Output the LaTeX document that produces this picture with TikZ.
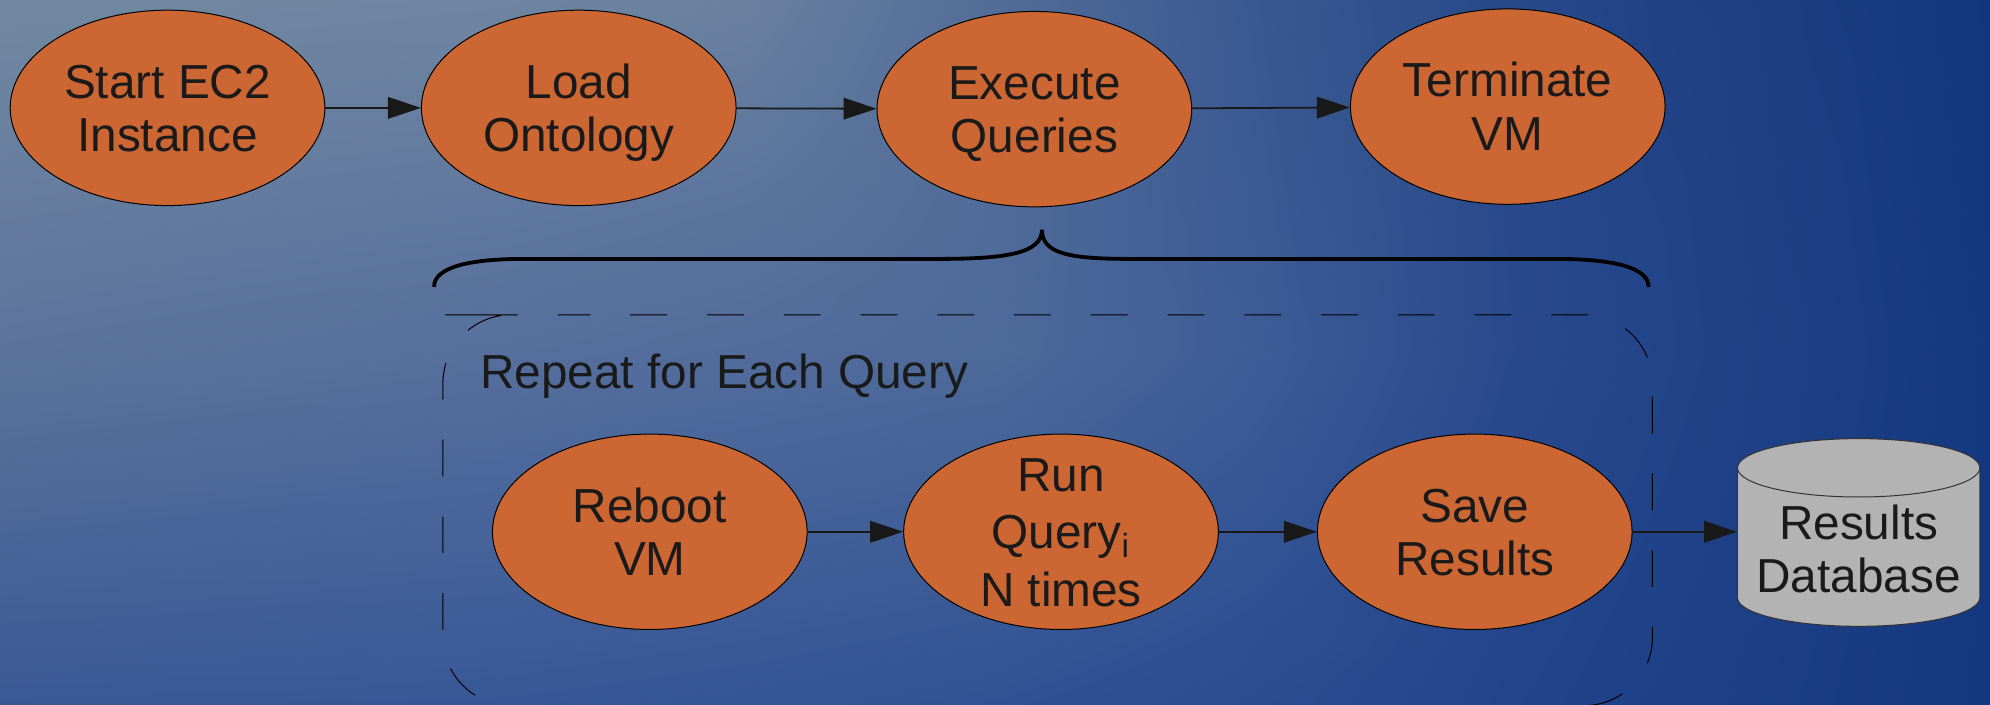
\documentclass[tikz,border=0pt]{standalone}
\usepackage{fontspec}
\setmainfont{Liberation Sans}
\usetikzlibrary{shapes.geometric,arrows.meta,shadings}
\definecolor{nodefill}{RGB}{204,102,51}
\definecolor{txt}{RGB}{26,26,26}
\definecolor{dbgray}{RGB}{179,179,179}
% background grid colours (top, middle, bottom rows)
\definecolor{ta}{RGB}{113,136,161}\definecolor{tb}{RGB}{110,133,161}\definecolor{tc}{RGB}{105,128,159}
\definecolor{td}{RGB}{82,108,152}\definecolor{te}{RGB}{58,89,145}\definecolor{tf}{RGB}{40,73,137}
\definecolor{tg}{RGB}{18,54,126}
\definecolor{ma}{RGB}{92,116,156}\definecolor{mb}{RGB}{86,111,157}\definecolor{mc}{RGB}{82,108,156}
\definecolor{md}{RGB}{78,106,154}\definecolor{me}{RGB}{62,92,150}\definecolor{mf}{RGB}{42,74,141}
\definecolor{mg}{RGB}{20,56,128}
\definecolor{ba}{RGB}{58,88,148}\definecolor{bb}{RGB}{55,87,150}\definecolor{bc}{RGB}{52,85,149}
\definecolor{bd}{RGB}{48,82,148}\definecolor{be}{RGB}{42,77,146}\definecolor{bf}{RGB}{34,68,140}
\definecolor{bg}{RGB}{20,56,128}
\newcommand{\bgcell}[6]{\shade[upper left=#1, upper right=#2, lower left=#3, lower right=#4] #5 rectangle #6;}
\newcommand{\firstln}[1]{\raisebox{0pt}[0.716em][0pt]{#1}}
\newcommand{\lastln}[1]{\raisebox{0pt}[0pt][0pt]{#1}}
\tikzset{
  stepnode/.style={ellipse, draw=black, line width=0.45pt, fill=nodefill,
    minimum width=4.96cm, minimum height=3.08cm, inner xsep=0pt, inner ysep=-1cm,
    align=center, text=txt, font=\fontsize{21.4}{24}\selectfont},
  textnode/.style={align=center, text=txt, inner sep=0pt, font=\fontsize{21.4}{24}\selectfont},
  arr/.style={-{Triangle[length=0.52cm,width=0.34cm]}, line width=0.8pt, draw=black!90},
  bracestyle/.style={line width=0.06cm, draw=black},
  groupbox/.style={draw=black, line width=0.45pt, dash pattern=on 0.58cm off 0.63cm, dash phase=0.418cm, rounded corners=1.08cm},
  dbshape/.style={draw=black!80, line width=0.45pt, fill=dbgray},
}
\begin{document}
\begin{tikzpicture}[x=0.02cm,y=0.02cm]
\useasboundingbox (0,0) rectangle (1568,-555);
% background: bilinear patches
\bgcell{ta}{tb}{ma}{mb}{(0,0)}{(395,-276.8)}
\bgcell{tb}{tc}{mb}{mc}{(394,0)}{(592,-276.8)}
\bgcell{tc}{td}{mc}{md}{(591,0)}{(789,-276.8)}
\bgcell{td}{te}{md}{me}{(788,0)}{(986,-276.8)}
\bgcell{te}{tf}{me}{mf}{(985,0)}{(1183,-276.8)}
\bgcell{tf}{tg}{mf}{mg}{(1182,0)}{(1568,-276.8)}
\bgcell{ma}{mb}{ba}{bb}{(0,-275.8)}{(395,-555)}
\bgcell{mb}{mc}{bb}{bc}{(394,-275.8)}{(592,-555)}
\bgcell{mc}{md}{bc}{bd}{(591,-275.8)}{(789,-555)}
\bgcell{md}{me}{bd}{be}{(788,-275.8)}{(986,-555)}
\bgcell{me}{mf}{be}{bf}{(985,-275.8)}{(1183,-555)}
\bgcell{mf}{mg}{bf}{bg}{(1182,-275.8)}{(1568,-555)}

% top row
\node[stepnode] (start) at (132,-85) {\firstln{Start EC2}\\\lastln{Instance}};
\node[stepnode] (load) at (456,-85) {\firstln{Load}\\\lastln{Ontology}};
\node[stepnode] (exec) at (815,-86) {\firstln{Execute}\\\lastln{Queries}};
\node[stepnode] (term) at (1188,-84) {\firstln{Terminate}\\\lastln{VM}};
\draw[arr] (start) -- (load);
\draw[arr] (load) -- (exec);
\draw[arr] (exec) -- (term);

% brace
\draw[bracestyle] (342,-226) .. controls (342,-211) and (368,-204) .. (413,-204)
  -- (740,-204) .. controls (795,-204) and (821,-199) .. (821,-181)
  .. controls (821,-199) and (840,-204) .. (890,-204)
  -- (1226,-204) .. controls (1272,-204) and (1299,-211) .. (1299,-226);

% dashed group box
\draw[groupbox] (403,-248) -- (1302,-248) -- (1302,-556) -- (349,-556) -- (349,-248) -- cycle;
\node[textnode, anchor=base west] (rep) at (378,-306) {Repeat for Each Query};

% bottom row
\node[stepnode] (reboot) at (512,-419) {\firstln{Reboot}\\\lastln{VM}};
\node[stepnode] (runq) at (836,-419) {\firstln{Run}\\[1.7pt]Query\textsubscript{i}\\[1.7pt]\lastln{N times}};
\node[stepnode] (save) at (1162,-419) {\firstln{Save}\\\lastln{Results}};

% database cylinder
\draw[dbshape] (1369,-368.6) -- (1369,-471)
  arc[start angle=180, end angle=360, x radius=1.91cm, y radius=0.45cm]
  -- (1560,-368.6)
  arc[start angle=0, end angle=180, x radius=1.91cm, y radius=0.46cm] -- cycle;
\draw[draw=black!80, line width=0.45pt] (1369,-368.6)
  arc[start angle=180, end angle=360, x radius=1.91cm, y radius=0.46cm];
\node[textnode, minimum width=3.82cm] (db) at (1464.5,-432.5) {\firstln{Results}\\\lastln{Database}};

\draw[arr] (reboot) -- (runq);
\draw[arr] (runq) -- (save);
\draw[arr] (save.east) -- (save.east -| db.west);
\end{tikzpicture}
\end{document}
